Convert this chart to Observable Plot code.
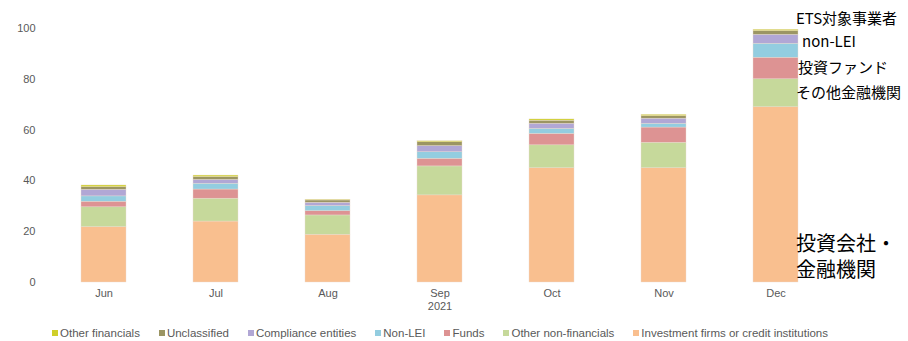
<!DOCTYPE html>
<html>
<head>
<meta charset="utf-8">
<script src="https://cdn.jsdelivr.net/npm/d3@7"></script>
<script src="https://cdn.jsdelivr.net/npm/@observablehq/plot@0.6"></script>
<style>
  html, body { margin: 0; padding: 0; background: #fff; overflow: hidden; }
  #chart { width: 908px; }
  .legend { display: flex; justify-content: center; gap: 19px; font: 11.5px "Liberation Sans", Arial, sans-serif; line-height: 15px; color: #595959; height: 15px; align-items: center; padding-right: 28px; margin-top: 6px; }
  .legend span.sw { display: inline-block; width: 6px; height: 6px; margin-right: 2px; vertical-align: middle; position: relative; top: -1px; }
</style>
</head>
<body>
<div id="chart"></div>
<script>
const months = ["Jun", "Jul", "Aug", "Sep", "Oct", "Nov", "Dec"];
const yearLabel = "2021";
const yTicks = [0, 20, 40, 60, 80, 100];

// series, bottom to top
const seriesNames = [
  "Investment firms or credit institutions",
  "Other non-financials",
  "Funds",
  "Non-LEI",
  "Compliance entities",
  "Unclassified",
  "Other financials"
];
const seriesColors = ["#f9bf8f", "#c6d99b", "#dd9393", "#93cde0", "#b1a7d5", "#9b9563", "#cfcf2a"];

const investment   = [21.8, 24.0, 18.8, 34.3, 45.0, 45.0, 69.0];
const otherNonFin  = [7.8, 9.0, 7.6, 11.4, 9.0, 10.0, 11.0];
const funds        = [2.2, 3.6, 1.7, 3.0, 4.5, 6.0, 8.5];
const nonLei       = [2.1, 2.3, 2.0, 2.6, 2.0, 1.5, 5.5];
const compliance   = [2.6, 1.5, 1.3, 2.4, 2.0, 2.0, 3.5];
const unclassified = [1.0, 1.1, 0.9, 1.5, 1.2, 1.0, 1.5];
const otherFin     = [0.7, 0.6, 0.3, 0.4, 0.5, 0.5, 0.5];

const seriesValues = [investment, otherNonFin, funds, nonLei, compliance, unclassified, otherFin];

// legend order (left to right)
const legendOrder = [
  "Other financials", "Unclassified", "Compliance entities", "Non-LEI",
  "Funds", "Other non-financials", "Investment firms or credit institutions"
];

const annotationsTop = ["ETS対象事業者", "non-LEI", "投資ファンド", "その他金融機関"];
const annotationsBottom = ["投資会社・", "金融機関"];

const table = [];
seriesNames.forEach((s, i) => {
  months.forEach((m, j) => table.push({ month: m, series: s, value: seriesValues[i][j] }));
});

const cjk = "'Noto Sans CJK JP', 'Noto Sans', sans-serif";

const plot = Plot.plot({
  width: 908,
  height: 320,
  marginLeft: 45,
  marginRight: 74,
  marginTop: 28,
  marginBottom: 38,
  style: { fontFamily: "'Liberation Sans', Arial, sans-serif", fontSize: "11px", color: "#595959", overflow: "visible" },
  x: { domain: months, paddingInner: 0.6, paddingOuter: 0.3, label: null, tickSize: 0, tickPadding: 7 },
  y: { domain: [0, 100], ticks: yTicks, label: null, tickSize: 0, tickPadding: 10 },
  color: { domain: seriesNames, range: seriesColors },
  marks: [
    Plot.barY(table, { x: "month", y: "value", z: "series", fill: "series", order: seriesNames,
      stroke: "#e9ddd0", strokeWidth: 0.4, inset: 0 }),
    Plot.text([yearLabel], { frameAnchor: "bottom", dy: 27, fontSize: 11, fill: "#595959" }),
    Plot.text([annotationsTop[0]], { x: () => "Dec", y: () => 103.8, dx: 20, textAnchor: "start", fontSize: 15, fill: "#000", fontFamily: cjk }),
    Plot.text([annotationsTop[1]], { x: () => "Dec", y: () => 94.8, dx: 26, textAnchor: "start", fontSize: 15, fill: "#000", fontFamily: cjk }),
    Plot.text([annotationsTop[2]], { x: () => "Dec", y: () => 84.3, dx: 22, textAnchor: "start", fontSize: 15, fill: "#000", fontFamily: cjk }),
    Plot.text([annotationsTop[3]], { x: () => "Dec", y: () => 74.4, dx: 20, textAnchor: "start", fontSize: 15, fill: "#000", fontFamily: cjk }),
    Plot.text([annotationsBottom[0]], { x: () => "Dec", y: () => 15.0, dx: 20, textAnchor: "start", fontSize: 20, fill: "#000", fontFamily: cjk }),
    Plot.text([annotationsBottom[1]], { x: () => "Dec", y: () => 4.7, dx: 20, textAnchor: "start", fontSize: 20, fill: "#000", fontFamily: cjk })
  ]
});

const chart = document.getElementById("chart");
chart.appendChild(plot);

const legend = document.createElement("div");
legend.className = "legend";
legendOrder.forEach(name => {
  const item = document.createElement("div");
  const sw = document.createElement("span");
  sw.className = "sw";
  sw.style.background = seriesColors[seriesNames.indexOf(name)];
  item.appendChild(sw);
  item.appendChild(document.createTextNode(name));
  legend.appendChild(item);
});
chart.appendChild(legend);
</script>
</body>
</html>
